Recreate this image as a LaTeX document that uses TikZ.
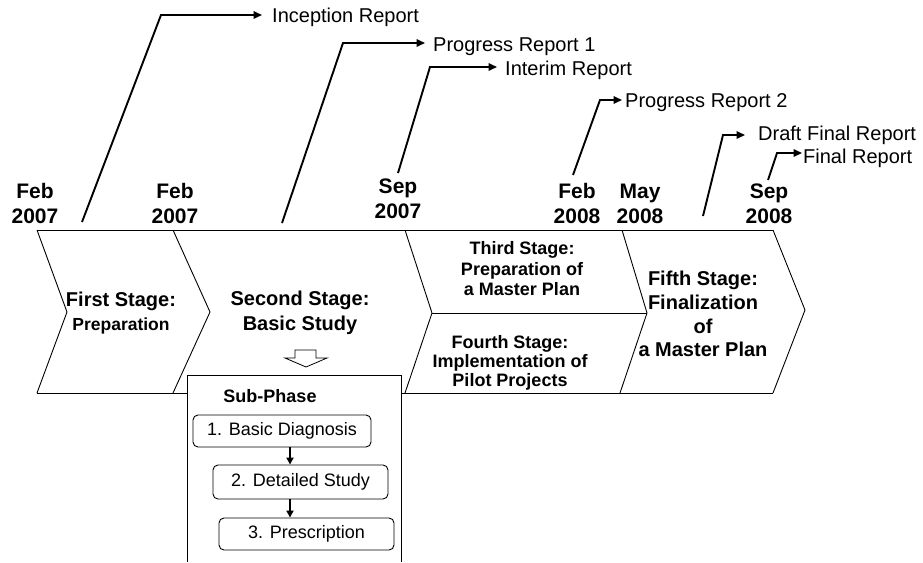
\documentclass[tikz,border=0pt]{standalone}
\usepackage{fontspec}
\setmainfont{Liberation Sans}
\usetikzlibrary{arrows.meta}
\tikzset{
 chev/.style={line width=0.9pt, line join=miter},
 rep/.style={line width=1.9pt, -{Triangle[length=8.5pt,width=7.5pt]}},
 replabel/.style={anchor=base west, inner sep=0pt, font=\fontsize{20}{24}\selectfont},
 datelbl/.style={align=center, inner sep=0pt, font=\bfseries\fontsize{21}{25}\selectfont},
 stagelbl/.style={align=center, inner sep=0pt, font=\bfseries\fontsize{20}{24.5}\selectfont},
 subbox/.style={draw, rounded corners=5pt, line width=0.9pt, inner sep=0pt, font=\fontsize{18}{22}\selectfont},
 subarrow/.style={line width=2pt, -{Triangle[length=7pt,width=7pt]}},
}
\begin{document}
\begin{tikzpicture}[x=1pt,y=-1pt]
\useasboundingbox (0,0) rectangle (923,562);
\fill[white] (0,0) rectangle (923,562);

% chevron outline
\draw[chev] (37,230) -- (773,230);
\draw[chev] (37,393) -- (773,393);
\draw[chev] (37,230) -- (67,312) -- (37,393);
\draw[chev] (173,230) -- (210,312) -- (173,393);
\draw[chev] (405,230) -- (432,313) -- (405,393);
\draw[chev] (622,230) -- (647,313) -- (620,393);
\draw[chev] (773,230) -- (805,310) -- (773,393);
\draw[chev] (432,313) -- (647,313);

% dates
\node[datelbl] (d1) at (35,203.5) {Feb\\2007};
\node[datelbl] (d2) at (175,203.5) {Feb\\2007};
\node[datelbl] (d3) at (398,199) {Sep\\2007};
\node[datelbl] (d4) at (577,203.5) {Feb\\2008};
\node[datelbl] (d5) at (640,203.5) {May\\2008};
\node[datelbl] (d6) at (769,203.5) {Sep\\2008};

% report arrows
\coordinate (r1a) at (82,222);  \coordinate (r1b) at (161,15);
\coordinate (r2a) at (282,223); \coordinate (r2b) at (343,43);
\coordinate (r3a) at (398,173); \coordinate (r3b) at (430,67);
\coordinate (r4a) at (573,175); \coordinate (r4b) at (600,100);
\coordinate (r5a) at (703,216); \coordinate (r5b) at (723,135);
\coordinate (r6a) at (768,180); \coordinate (r6b) at (777,153);
\node[replabel] (l1) at (272,23) {Inception Report};
\node[replabel] (l2) at (433,51) {Progress Report 1};
\node[replabel] (l3) at (505,75) {Interim Report};
\node[replabel] (l4) at (625,107) {Progress Report 2};
\node[replabel] (l5) at (758,140.5) {Draft Final Report};
\node[replabel] (l6) at (803,163) {Final Report};
\draw[rep] (r1a) -- (r1b) -- (262,15);
\draw[rep] (r2a) -- (r2b) -- (425,43);
\draw[rep] (r3a) -- (r3b) -- (497,67);
\draw[rep] (r4a) -- (r4b) -- (622,100);
\draw[rep] (r5a) -- (r5b) -- (745,135);
\draw[rep] (r6a) -- (r6b) -- (802,153);

% stage labels
\node[stagelbl] (s1) at (121,313) {First Stage:\\{\fontsize{17.5}{24.5}\selectfont Preparation}};
\node[stagelbl] (s2) at (300,313) {Second Stage:\\Basic Study};
\node[stagelbl, font=\bfseries\fontsize{18}{20.5}\selectfont] (s3) at (522,269) {Third Stage:\\Preparation of\\a Master Plan};
\node[stagelbl, font=\bfseries\fontsize{18}{19}\selectfont] (s4) at (510,363) {Fourth Stage:\\Implementation of\\Pilot Projects};
\node[stagelbl, font=\bfseries\fontsize{20}{23.7}\selectfont] (s5) at (703,314) {Fifth Stage:\\Finalization\\of\\a Master Plan};

% hollow arrow
\draw[chev, line width=0.8pt, fill=white] (295,350) -- (316,350) -- (316,358) -- (327,358) -- (306,367) -- (285,358) -- (295,358) -- cycle;

% sub-phase box
\fill[white] (187,375) rectangle (401,562);
\draw[chev] (187,562) -- (187,375) -- (401,375) -- (401,562);
\node[font=\bfseries\fontsize{18}{22}\selectfont, inner sep=0pt] (sp) at (270,396) {Sub-Phase};
\node[subbox, minimum width=178pt, minimum height=32pt] (b1) at (282,431) {1. Basic Diagnosis};
\node[subbox, minimum width=175pt, minimum height=34pt] (b2) at (300.5,482) {2. Detailed Study};
\node[subbox, minimum width=175pt, minimum height=32pt] (b3) at (306.5,534) {3. Prescription};
\coordinate (ax) at (290,0);
\draw[subarrow] (b1.south -| ax) -- (b2.north -| ax);
\draw[subarrow] (b2.south -| ax) -- (b3.north -| ax);
\end{tikzpicture}
\end{document}
